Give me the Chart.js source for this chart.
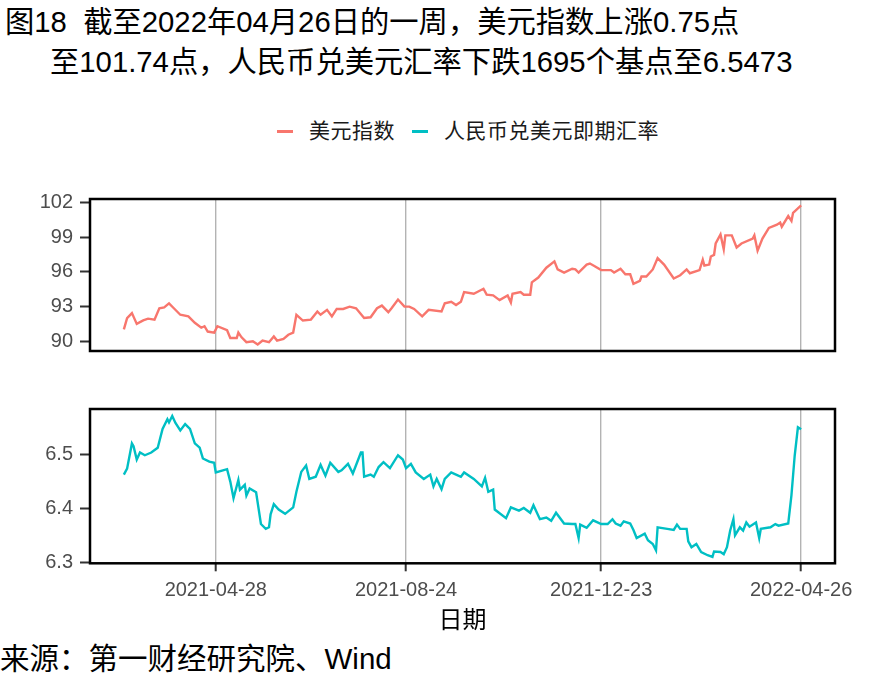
<!DOCTYPE html>
<html lang="zh">
<head>
    <meta charset="UTF-8">
    <title>美元指数与人民币汇率</title>
    <script src="https://cdn.jsdelivr.net/npm/chart.js"></script>
    <style>
        body {
            margin: 0;
            width: 885px;
            height: 688px;
            position: relative;
            background: #fff;
            font-family: 'Liberation Sans', 'Noto Sans CJK SC', sans-serif;
            color: #000;
            overflow: hidden;
        }
        .txt { position: absolute; white-space: pre; line-height: 1; }
        #title1 { left: 5px; top: 7px; font-size: 29.3px; }
        #title2 { left: 50px; top: 47px; font-size: 29.3px; }
        #source { left: 0px; top: 644px; font-size: 29.5px; }
        .legend-key { position: absolute; height: 2.5px; width: 16px; top: 130px; }
        .legend-txt { position: absolute; top: 120px; font-size: 21px; letter-spacing: 0.5px; color: #1a1a1a; }
        canvas { position: absolute; left: 0; }
    </style>
</head>
<body>
    <div class="txt" id="title1">图18  截至2022年04月26日的一周，美元指数上涨0.75点</div>
    <div class="txt" id="title2">至101.74点，人民币兑美元汇率下跌1695个基点至6.5473</div>

    <div class="legend-key" style="left:277px;background:#F8766D"></div>
    <div class="txt legend-txt" style="left:309px">美元指数</div>
    <div class="legend-key" style="left:412px;background:#00BFC4"></div>
    <div class="txt legend-txt" style="left:444px">人民币兑美元即期汇率</div>

    <canvas id="usdChart" width="885" height="190" style="top:180px"></canvas>
    <canvas id="cnyChart" width="885" height="250" style="top:390px"></canvas>

    <div class="txt" id="source">来源：第一财经研究院、Wind</div>

    <script>
        // days counted from 2021-03-02 (first observation)
        const tickDays = [57, 175, 296, 420];
        const tickLabels = ['2021-04-28', '2021-08-24', '2021-12-23', '2022-04-26'];

        // 美元指数
        const usdDays = [0, 2, 5, 8, 12, 15, 19, 22, 25, 28, 31, 35, 40, 44, 48, 50, 52, 56, 58, 64,
            66, 70, 71, 73, 76, 80, 83, 86, 90, 93, 95, 99, 102, 105, 107, 111, 116, 120, 122, 126,
            129, 132, 136, 140, 144, 149, 153, 157, 160, 164, 166, 170, 174, 177, 180, 185, 189, 197, 199, 203,
            206, 209, 211, 217, 223, 225, 229, 233, 238, 240, 241, 246, 248, 252, 253, 257, 262, 267, 269, 273,
            278, 280, 282, 287, 289, 292, 296, 302, 304, 308, 311, 314, 316, 320, 321, 324, 328, 331, 335, 341,
            345, 349, 351, 357, 359, 360, 363, 364, 366, 367, 370, 372, 373, 377, 380, 383, 390, 391, 393, 396,
            400, 405, 407, 408, 412, 414, 415, 420];
        const usdValues = [91.03, 92.0, 92.43, 91.5, 91.8, 91.95, 91.87, 92.85, 92.93, 93.27, 92.85, 92.29, 92.15, 91.6, 91.17, 91.3, 90.84, 90.75, 91.3, 90.95,
            90.28, 90.28, 90.75, 90.34, 89.92, 90.0, 89.72, 90.06, 89.92, 90.42, 90.06, 90.2, 90.56, 90.75, 92.29, 91.79, 91.87, 92.57, 92.29, 92.71,
            92.15, 92.79, 92.79, 92.99, 92.85, 92.01, 92.07, 92.85, 93.08, 92.51, 92.85, 93.6, 92.99, 92.99, 92.79, 92.15, 92.71, 92.57, 93.27, 93.41,
            93.13, 93.41, 94.25, 94.1, 94.53, 94.02, 93.96, 93.55, 93.96, 93.35, 94.1, 94.25, 94.02, 94.02, 95.09, 95.5, 96.35, 96.9, 96.2, 95.93,
            96.26, 96.2, 95.93, 96.62, 96.71, 96.48, 96.14, 96.14, 95.93, 96.26, 95.78, 95.78, 94.95, 95.22, 95.59, 95.59, 96.2, 97.18, 96.62, 95.42,
            95.7, 96.2, 95.87, 96.14, 97.04, 96.54, 96.62, 97.32, 97.46, 98.44, 99.22, 97.94, 99.14, 99.14, 98.1, 98.44, 98.86, 99.14, 97.82, 98.86,
            99.78, 100.06, 100.25, 99.89, 100.81, 100.39, 101.09, 101.74];

        // 人民币兑美元即期汇率
        const cnyDays = [0, 2, 5, 6, 8, 10, 13, 17, 21, 24, 27, 28, 30, 32, 35, 38, 41, 44, 47, 49,
            53, 56, 57, 64, 66, 68, 71, 72, 75, 76, 78, 82, 85, 88, 90, 91, 93, 96, 100, 105,
            107, 110, 113, 115, 119, 122, 125, 128, 133, 135, 139, 142, 147, 148, 149, 153, 155, 158, 161, 165,
            170, 173, 175, 178, 181, 186, 190, 192, 194, 197, 199, 203, 206, 209, 211, 217, 222, 224, 226, 229,
            230, 237, 240, 245, 248, 252, 254, 258, 262, 265, 268, 273, 278, 280, 282, 283, 287, 291, 296, 300,
            303, 305, 308, 310, 314, 316, 318, 323, 325, 328, 330, 331, 337, 341, 343, 345, 349, 350, 352, 355,
            358, 362, 365, 366, 370, 372, 374, 376, 378, 379, 382, 384, 386, 388, 392, 394, 395, 401, 404, 406,
            412, 414, 416, 418, 420];
        const cnyValues = [6.463, 6.474, 6.521, 6.516, 6.491, 6.504, 6.499, 6.504, 6.513, 6.548, 6.566, 6.560, 6.572, 6.559, 6.545, 6.557, 6.548, 6.521, 6.513, 6.493,
            6.487, 6.485, 6.467, 6.473, 6.450, 6.419, 6.453, 6.435, 6.444, 6.424, 6.437, 6.430, 6.371, 6.362, 6.365, 6.389, 6.408, 6.398, 6.390, 6.402,
            6.431, 6.468, 6.480, 6.455, 6.459, 6.481, 6.461, 6.485, 6.468, 6.471, 6.483, 6.465, 6.504, 6.504, 6.459, 6.463, 6.459, 6.477, 6.486, 6.475,
            6.499, 6.491, 6.475, 6.483, 6.467, 6.455, 6.463, 6.441, 6.455, 6.436, 6.455, 6.467, 6.463, 6.459, 6.467, 6.455, 6.441, 6.457, 6.431, 6.435,
            6.398, 6.382, 6.402, 6.396, 6.401, 6.392, 6.406, 6.380, 6.383, 6.377, 6.392, 6.372, 6.371, 6.371, 6.345, 6.370, 6.364, 6.378, 6.371, 6.371,
            6.380, 6.372, 6.368, 6.376, 6.372, 6.360, 6.345, 6.353, 6.341, 6.334, 6.322, 6.365, 6.362, 6.360, 6.370, 6.362, 6.362, 6.339, 6.328, 6.334,
            6.319, 6.313, 6.310, 6.320, 6.319, 6.315, 6.328, 6.359, 6.380, 6.350, 6.365, 6.359, 6.374, 6.366, 6.374, 6.345, 6.362, 6.365, 6.371, 6.368,
            6.372, 6.425, 6.498, 6.551, 6.5473];

        const usdTicks = [90, 93, 96, 99, 102];
        const cnyTicks = [6.3, 6.4, 6.5];

        const FONT = "'Liberation Sans', 'Noto Sans CJK SC', sans-serif";

        // panel frame like ggplot theme_bw border
        const framePlugin = {
            id: 'frame',
            afterDraw(chart) {
                const a = chart.chartArea;
                const ctx = chart.ctx;
                ctx.save();
                ctx.strokeStyle = '#000';
                ctx.lineWidth = 2.5;
                ctx.strokeRect(a.left, a.top, a.right - a.left, a.bottom - a.top);
                ctx.restore();
            }
        };

        function toPoints(days, values) {
            return days.map((d, i) => ({ x: d, y: values[i] }));
        }

        function makeChart(id, points, color, yMin, yMax, yTicks, decimals, showX, padding) {
            return new Chart(document.getElementById(id), {
                type: 'line',
                data: {
                    datasets: [{
                        data: points,
                        borderColor: color,
                        borderWidth: 2.4,
                        pointRadius: 0,
                        tension: 0
                    }]
                },
                options: {
                    responsive: false,
                    animation: false,
                    layout: { padding: padding },
                    plugins: { legend: { display: false }, tooltip: { enabled: false } },
                    scales: {
                        x: {
                            type: 'linear',
                            min: -21,
                            max: 441,
                            border: { display: false },
                            grid: {
                                color: '#b3b3b3',
                                lineWidth: 1.4,
                                drawTicks: showX,
                                tickLength: 8,
                                tickColor: '#333',
                                tickWidth: 2
                            },
                            afterBuildTicks: s => { s.ticks = tickDays.map(v => ({ value: v })); },
                            afterFit: s => { s.height = showX ? 72 : 0; },
                            ticks: {
                                display: showX,
                                autoSkip: false,
                                maxRotation: 0,
                                padding: 7,
                                color: '#4d4d4d',
                                font: { family: FONT, size: 20 },
                                callback: (v, i) => tickLabels[i]
                            },
                            title: {
                                display: showX,
                                text: '日期',
                                color: '#000',
                                font: { family: FONT, size: 24 },
                                padding: { top: 2, bottom: 0 }
                            }
                        },
                        y: {
                            min: yMin,
                            max: yMax,
                            border: { display: false },
                            grid: {
                                drawOnChartArea: false,
                                tickLength: 10,
                                tickColor: '#333',
                                tickWidth: 2
                            },
                            afterBuildTicks: s => { s.ticks = yTicks.map(v => ({ value: v })); },
                            afterFit: s => { s.width = 90; },
                            ticks: {
                                padding: 7,
                                color: '#4d4d4d',
                                font: { family: FONT, size: 20 },
                                callback: v => v.toFixed(decimals)
                            }
                        }
                    }
                },
                plugins: [framePlugin]
            });
        }

        makeChart('usdChart', toPoints(usdDays, usdValues), '#F8766D', 89.16, 102.28, usdTicks, 0, false,
            { top: 17.3, bottom: 16, left: 0, right: 50 });
        makeChart('cnyChart', toPoints(cnyDays, cnyValues), '#00BFC4', 6.298, 6.585, cnyTicks, 1, true,
            { top: 15.7, bottom: 4.7, left: 0, right: 50 });
    </script>
</body>
</html>
